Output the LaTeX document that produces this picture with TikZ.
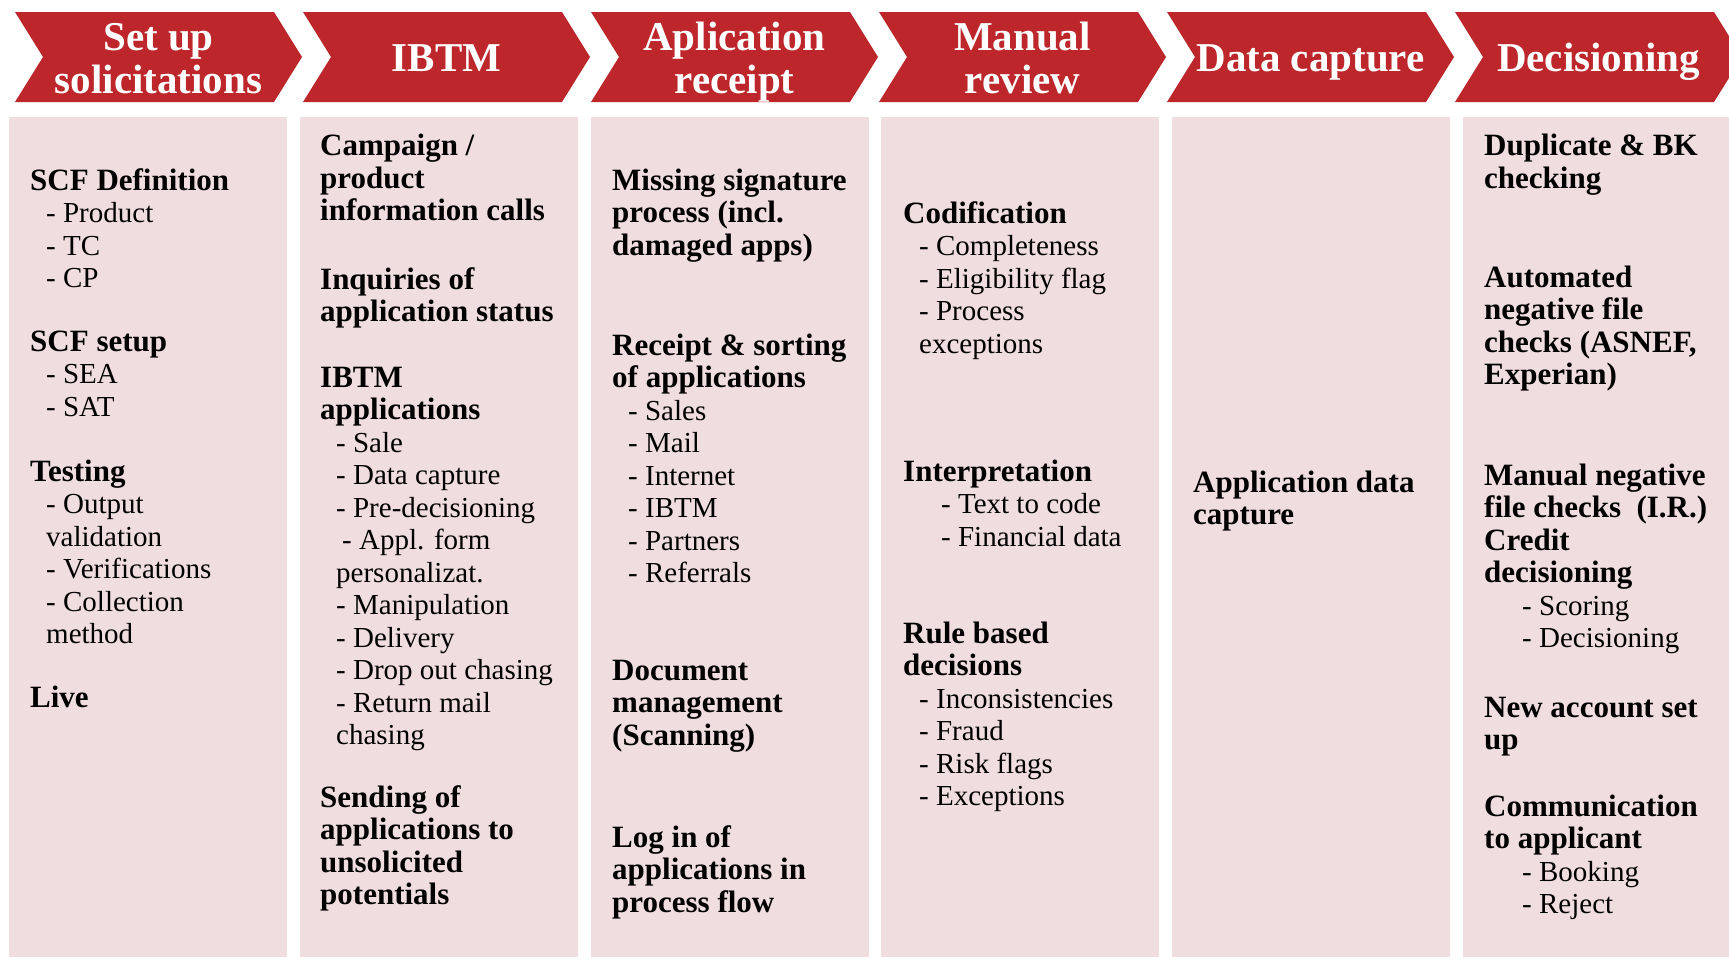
\documentclass[tikz,border=0pt]{standalone}
\usepackage{fontspec}
\setmainfont{Liberation Serif}

\definecolor{chevred}{RGB}{189,38,42}
\definecolor{colpink}{RGB}{240,221,223}

% one block of lines, baseline = first line
\newcommand{\blk}[1]{\begin{tabular}[t]{@{}l@{}}#1\end{tabular}}
\newcommand{\two}[1]{\begin{tabular}[t]{@{}c@{}}#1\end{tabular}}
\newcommand{\hd}[1]{{\fontsize{31}{32.5}\selectfont\bfseries #1}}
\newcommand{\ind}{\hspace*{16pt}}
\newcommand{\wide}{\hspace*{38pt}}

\tikzset{
  chev/.style={fill=chevred, draw=none},
  colbox/.style={fill=colpink, draw=none},
  head/.style={text=white, font=\fontsize{41}{43.4}\selectfont\bfseries, anchor=base, inner sep=0pt},
  txt/.style={anchor=base west, inner sep=0pt, font=\fontsize{29}{32.5}\selectfont},
}

\begin{document}
\begin{tikzpicture}[x=1pt, y=-1pt]
  \useasboundingbox (0,0) rectangle (1729,959);
  \fill[white] (0,0) rectangle (1729,959);
  \clip (0,0) rectangle (1729,959);

  % Draw the chevrons
  \foreach \i in {0,...,5}
    \fill[chev] ({15+288*\i},12) -- ++(259,0) -- ++(28,45) -- ++(-28,45)
      -- ++(-259,0) -- ++(28,-45) -- cycle;

  % Draw the columns
  \foreach \i in {0,...,5}
    \fill[colbox] ({9+290.8*\i},117) rectangle ++(278,840);

  % Step titles
  \node[head] (h1) at (158.5,50.5) {\two{Set up\\solicitations}};
  \node[head] (h2) at (446.5,71) {IBTM};
  \node[head] (h3) at (734.5,50.5) {\two{Aplication\\receipt}};
  \node[head] (h4) at (1022.5,50.5) {\two{Manual\\review}};
  \node[head] (h5) at (1310.5,71) {Data capture};
  \node[head] (h6) at (1598.5,71) {Decisioning};

  % Set up solicitations
  \node[txt] (scfdef) at (30,190) {\blk{\hd{SCF Definition}\\\ind- Product\\\ind- TC\\\ind- CP}};
  \node[txt] (scfset) at (30,351) {\blk{\hd{SCF setup}\\\ind- SEA\\\ind- SAT}};
  \node[txt] (testing) at (30,481) {\blk{\hd{Testing}\\\ind- Output\\\ind validation\\\ind- Verifications\\\ind- Collection\\\ind method}};
  \node[txt] (live) at (30,707) {\blk{\hd{Live}}};

  % IBTM
  \node[txt] (campaign) at (320,155.5) {\blk{\hd{Campaign /}\\\hd{product}\\\hd{information calls}}};
  \node[txt] (inquiries) at (320,289) {\blk{\hd{Inquiries of}\\\hd{application status}}};
  \node[txt] (ibtmapps) at (320,387) {\blk{\hd{IBTM}\\\hd{applications}\\\ind- Sale\\\ind- Data capture\\\ind- Pre-decisioning\\\ind\hspace*{6pt}- Appl. form\\\ind personalizat.\\\ind- Manipulation\\\ind- Delivery\\\ind- Drop out chasing\\\ind- Return mail\\\ind chasing}};
  \node[txt] (sending) at (320,807) {\blk{\hd{Sending of}\\\hd{applications to}\\\hd{unsolicited}\\\hd{potentials}}};

  % Application receipt
  \node[txt] (missing) at (612,190) {\blk{\hd{Missing signature}\\\hd{process (incl.}\\\hd{damaged apps)}}};
  \node[txt] (sorting) at (612,355) {\blk{\hd{Receipt \& sorting}\\\hd{of applications}\\\ind- Sales\\\ind- Mail\\\ind- Internet\\\ind- IBTM\\\ind- Partners\\\ind- Referrals}};
  \node[txt] (docman) at (612,680) {\blk{\hd{Document}\\\hd{management}\\\hd{(Scanning)}}};
  \node[txt] (login) at (612,847) {\blk{\hd{Log in of}\\\hd{applications in}\\\hd{process flow}}};

  % Manual review
  \node[txt] (codif) at (903,223) {\blk{\hd{Codification}\\\ind- Completeness\\\ind- Eligibility flag\\\ind- Process\\\ind exceptions}};
  \node[txt] (interp) at (903,481) {\blk{\hd{Interpretation}\\\wide- Text to code\\\wide- Financial data}};
  \node[txt] (rules) at (903,643) {\blk{\hd{Rule based}\\\hd{decisions}\\\ind- Inconsistencies\\\ind- Fraud\\\ind- Risk flags\\\ind- Exceptions}};

  % Data capture
  \node[txt] (appdata) at (1193,492) {\blk{\hd{Application data}\\\hd{capture}}};

  % Decisioning
  \node[txt] (dupl) at (1484,155.5) {\blk{\hd{Duplicate \& BK}\\\hd{checking}}};
  \node[txt] (autoneg) at (1484,287) {\blk{\hd{Automated}\\\hd{negative file}\\\hd{checks (ASNEF,}\\\hd{Experian)}}};
  \node[txt] (manneg) at (1484,485) {\blk{\hd{Manual negative}\\\hd{file checks~~(I.R.)}\\\hd{Credit}\\\hd{decisioning}\\\wide- Scoring\\\wide- Decisioning}};
  \node[txt] (newacc) at (1484,717) {\blk{\hd{New account set}\\\hd{up}}};
  \node[txt] (comm) at (1484,816) {\blk{\hd{Communication}\\\hd{to applicant}\\\wide- Booking\\\wide- Reject}};
\end{tikzpicture}
\end{document}
